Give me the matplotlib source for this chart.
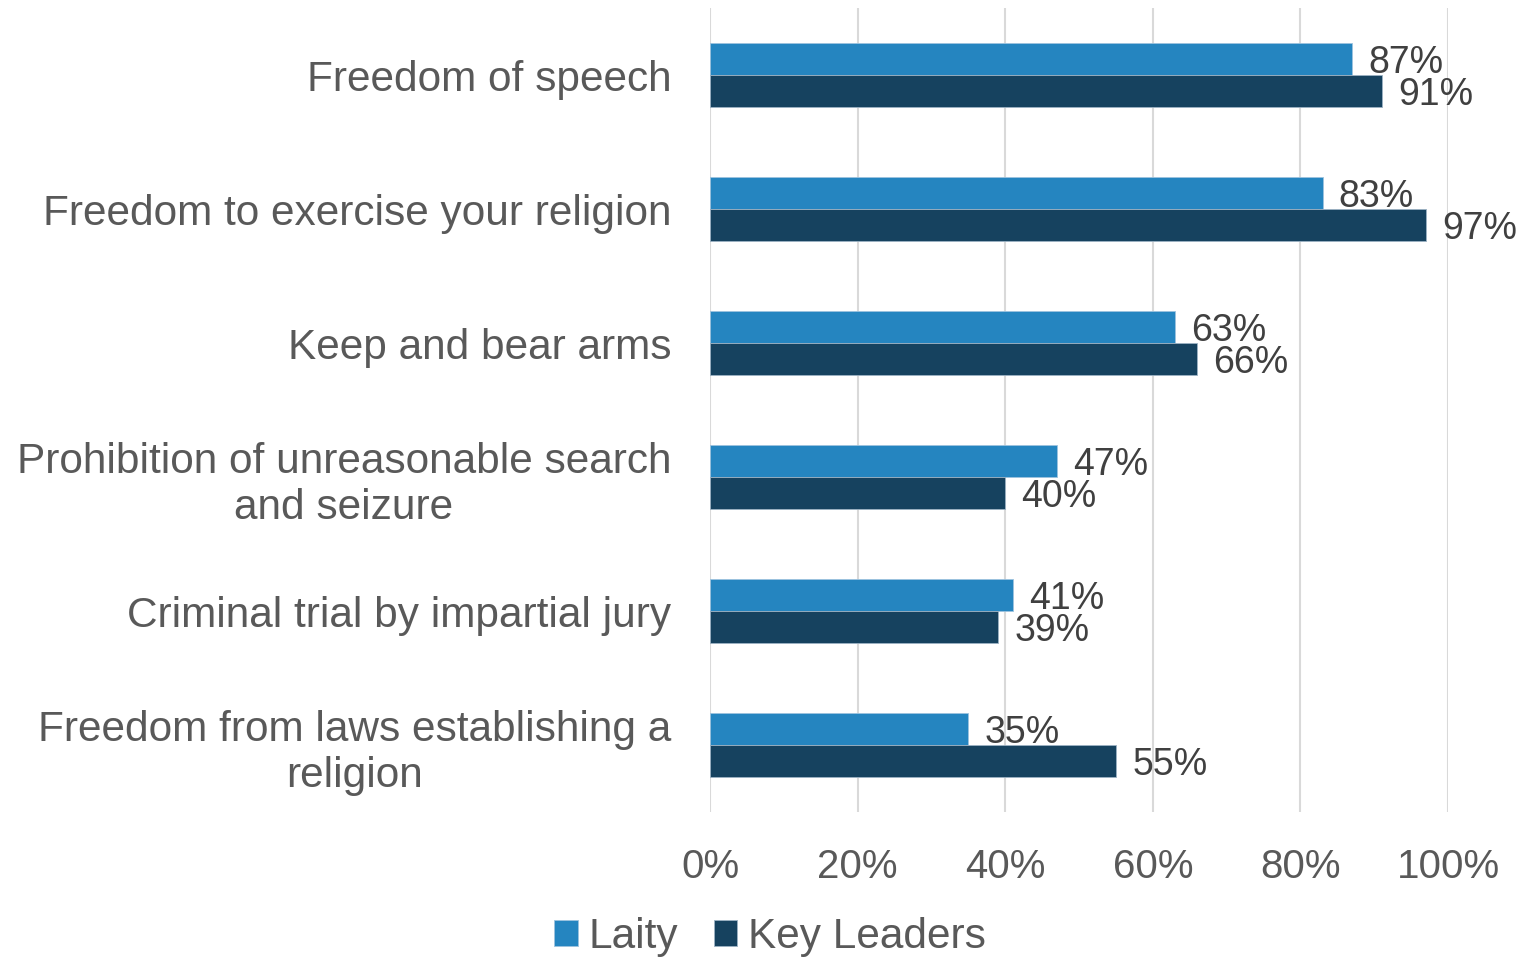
import matplotlib.pyplot as plt
import numpy as np

plt.rcParams['font.family'] = ['Liberation Sans', 'DejaVu Sans']

categories = [
    "Freedom of speech",
    "Freedom to exercise your religion",
    "Keep and bear arms",
    "Prohibition of unreasonable search\nand seizure",
    "Criminal trial by impartial jury",
    "Freedom from laws establishing a\nreligion",
]
laity = [87, 83, 63, 47, 41, 35]
key_leaders = [91, 97, 66, 40, 39, 55]
x_ticks = [0, 20, 40, 60, 80, 100]

laity_color = '#2585C0'
leaders_color = '#16425F'
text_color = '#595959'

fig = plt.figure(figsize=(15.25, 9.57), dpi=100)
ax = fig.add_axes([0.4656, 0.1515, 0.4839, 0.8401])

y = np.arange(len(categories))
h = 0.24
ax.barh(y - h / 2, laity, height=h, color=laity_color, edgecolor='#9DC3DE', linewidth=0.6, label='Laity', zorder=3)
ax.barh(y + h / 2, key_leaders, height=h, color=leaders_color, edgecolor='#9DB3C4', linewidth=0.6, label='Key Leaders', zorder=3)

for yi, v in zip(y, laity):
    ax.text(v + 2.2, yi - h / 2, f"{v}%", va='center_baseline', ha='left', fontsize=27, color='#404040')
for yi, v in zip(y, key_leaders):
    ax.text(v + 2.2, yi + h / 2, f"{v}%", va='center_baseline', ha='left', fontsize=27, color='#404040')

ax.set_xlim(0, 100)
ax.set_ylim(len(categories) - 0.5, -0.5)
ax.set_yticks(y)
ax.set_yticklabels(categories, fontsize=30.5, color=text_color, multialignment='center', linespacing=1.2)
ax.set_xticks(x_ticks)
ax.set_xticklabels([f"{t}%" for t in x_ticks], fontsize=29, color=text_color)
ax.tick_params(axis='y', length=0, pad=28)
ax.tick_params(axis='x', length=0, pad=26)
ax.grid(axis='x', color='#D9D9D9', linewidth=1.5, zorder=0)
for s in ax.spines.values():
    s.set_visible(False)

handles, labels = ax.get_legend_handles_labels()
leg = fig.legend(handles, labels, loc='center', bbox_to_anchor=(0.505, 0.021), ncol=2, frameon=False,
                 fontsize=30.5, handlelength=0.55, handleheight=0.55, handletextpad=0.25, columnspacing=0.85)
for t in leg.get_texts():
    t.set_color(text_color)

fig.savefig('out.png', dpi=100)
